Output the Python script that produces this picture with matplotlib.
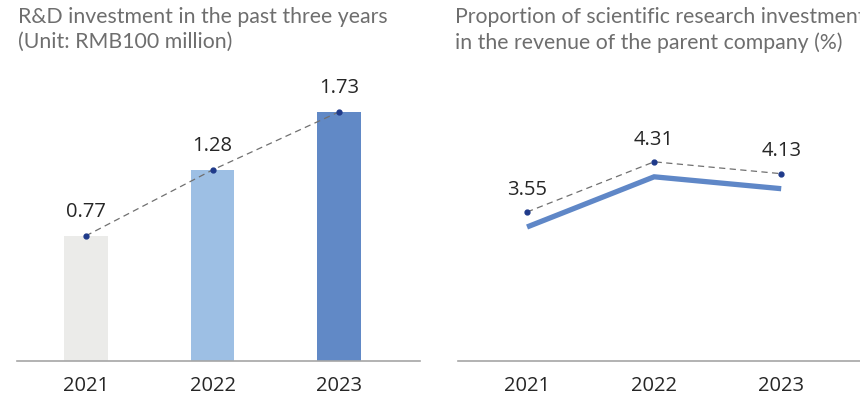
import numpy as np
import matplotlib.pyplot as plt
from matplotlib.transforms import offset_copy

# Data
years = ['2021', '2022', '2023']
rd_investment = [0.77, 1.28, 1.73]          # RMB100 million
rd_share = [3.55, 4.31, 4.13]              # % of parent company revenue
bar_colors = ['#EBEBE9', '#9DBFE4', '#6189C6']

title_left = 'R&D investment in the past three years\n(Unit: RMB100 million)'
title_right = ('Proportion of scientific research investment\n'
               'in the revenue of the parent company (%)')

dot_color = '#1F3A8A'
dash_color = '#707070'
text_color = '#262626'
title_color = '#6E6E6E'

fig = plt.figure(figsize=(8.6, 3.98), dpi=100)
ax1 = fig.add_axes([0.0198, 0.094, 0.4686, 0.755])
ax2 = fig.add_axes([0.5326, 0.094, 0.4674, 0.755])

x = np.arange(len(years))

# Left: bars with a dashed trend line through their tops
base = -0.195
ax1.bar(x, np.array(rd_investment) - base, bottom=base, width=0.346,
        color=bar_colors, zorder=2)
ax1.plot(x, rd_investment, ls=(0, (5, 3.5)), lw=0.9, color=dash_color,
         marker='o', ms=3.5, mfc=dot_color, mec=dot_color, zorder=3)
for xi, v in zip(x, rd_investment):
    ax1.annotate(f'{v:.2f}', (xi, v), xytext=(0, 17), textcoords='offset points',
                 ha='center', va='center', fontsize=14.5, family='Open Sans',
                 color=text_color)
ax1.set_xlim(-0.543, 2.638)
ax1.set_ylim(base, 2.13)

# Right: thick line drawn just under the dashed marker line
shifted = offset_copy(ax2.transData, fig=fig, x=0, y=-15, units='dots')
ax2.plot(x, rd_share, lw=3.8, color='#5F87C7', transform=shifted,
         solid_capstyle='butt', solid_joinstyle='miter', zorder=2)
ax2.plot(x, rd_share, ls=(0, (5, 3.5)), lw=0.9, color=dash_color,
         marker='o', ms=3.5, mfc=dot_color, mec=dot_color, zorder=3)
for xi, v in zip(x, rd_share):
    ax2.annotate(f'{v:.2f}', (xi, v), xytext=(0, 16), textcoords='offset points',
                 ha='center', va='center', fontsize=14.5, family='Open Sans',
                 color=text_color)
ax2.set_xlim(-0.543, 2.62)
ax2.set_ylim(1.3, 5.85)

for ax in (ax1, ax2):
    for side in ('top', 'left', 'right'):
        ax.spines[side].set_visible(False)
    ax.spines['bottom'].set_color('#A6A6A6')
    ax.spines['bottom'].set_linewidth(1.2)
    ax.set_yticks([])
    ax.set_xticks(x)
    ax.set_xticklabels(years, fontsize=14.5, family='Open Sans', color=text_color)
    ax.tick_params(axis='x', length=0, pad=11)
    ax.patch.set_visible(False)

fig.text(18 / 860, 1 - 7 / 398, title_left, ha='left', va='top', fontsize=15.3,
         family='Lato', color=title_color, linespacing=1.32)
fig.text(455 / 860, 1 - 7 / 398, title_right, ha='left', va='top', fontsize=15.3,
         family='Lato', color=title_color, linespacing=1.32)

fig.savefig('out.png', dpi=100)
